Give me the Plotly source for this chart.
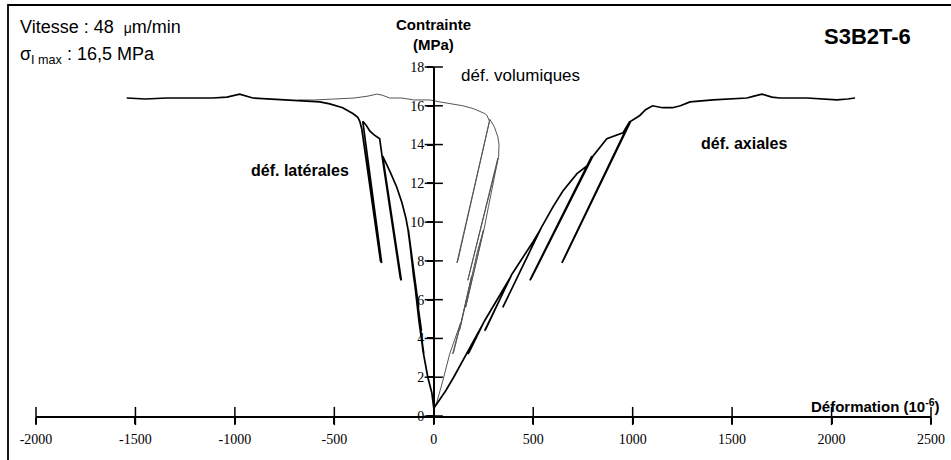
import plotly.graph_objects as go

# ---- data ----
x_ticks = [-2000, -1500, -1000, -500, 0, 500, 1000, 1500, 2000, 2500]
x_tick_text = ["-2000", "-1500", "-1000", "-500", "0", "500", "1000", "1500", "2000", "2500"]
y_ticks = [0, 2, 4, 6, 8, 10, 12, 14, 16, 18]
y_tick_text = ["0", "2", "4", "6", "8", "10", "12", "14", "16", "18"]

# axial strain (10^-6) vs stress (MPa), with unload/reload cycles
axial_x = [0, 20, 60, 100, 166, 231, 250, 171, 178, 255,
           300, 340, 388, 256, 262, 392,
           450, 500, 535, 347, 352, 540,
           600, 649, 720, 770, 795, 483, 490, 800,
           870, 951, 986, 644, 650, 990,
           1036, 1065, 1100, 1150, 1200, 1240, 1288, 1404, 1500, 1574, 1610, 1650,
           1700, 1740, 1876, 1950, 2027, 2080, 2118]
axial_y = [0.4, 0.7, 1.3, 2.0, 3.2, 4.4, 4.8, 3.2, 3.3, 4.9,
           5.7, 6.4, 7.2, 4.4, 4.5, 7.3,
           8.2, 9.0, 9.6, 5.6, 5.7, 9.7,
           10.8, 11.6, 12.5, 12.9, 13.4, 7.0, 7.1, 13.4,
           14.3, 14.6, 15.2, 7.9, 8.0, 15.2,
           15.5, 15.8, 16.0, 15.9, 15.9, 16.0, 16.2, 16.3, 16.35, 16.4, 16.5, 16.6,
           16.45, 16.4, 16.4, 16.35, 16.3, 16.35, 16.4]

# lateral strain
lateral_x = [0, -5, -10, -30, -45, -55, -65, -72, -50, -53, -74,
             -85, -100, -62, -65, -102,
             -112, -128, -76, -80, -130,
             -140, -160, -186, -220, -257, -163, -168, -260,
             -268, -272, -300, -322, -340, -357, -262, -268, -362, -372, -382, -407,
             -458, -523, -573, -660, -760, -910, -976, -1040, -1112, -1343, -1450, -1544]
lateral_y = [0.4, 0.7, 1.2, 2.0, 2.8, 3.4, 4.4, 4.8, 3.2, 3.3, 4.85,
             6.0, 7.2, 4.4, 4.5, 7.25,
             8.2, 9.6, 5.6, 5.7, 9.65,
             10.2, 11.0, 11.8, 12.6, 13.4, 7.0, 7.1, 13.4,
             14.0, 14.3, 14.5, 14.7, 15.0, 15.2, 7.9, 8.0, 14.8, 15.2, 15.4, 15.6,
             15.9, 16.1, 16.2, 16.25, 16.3, 16.4, 16.6, 16.45, 16.4, 16.4, 16.35, 16.4]

# volumetric strain
vol_x = [0, 15, 45, 80, 121, 135, 95, 100, 138,
         165, 190, 128, 132, 193,
         220, 250, 160, 165, 253,
         275, 300, 318, 322, 171, 176, 326,
         328, 322, 305, 282, 116, 121, 280, 268, 256, 230, 200, 146, 80, 30,
         -20, -100, -160, -221, -260, -287, -330, -400, -500, -600, -680]
vol_y = [0.4, 0.7, 1.8, 3.2, 4.4, 4.8, 3.2, 3.3, 4.85,
         6.0, 7.2, 4.4, 4.5, 7.25,
         8.5, 9.6, 5.6, 5.7, 9.65,
         10.8, 12.0, 13.0, 13.3, 7.0, 7.1, 13.35,
         14.0, 14.4, 14.9, 15.3, 7.9, 8.0, 15.2, 15.5, 15.6, 15.7, 15.85, 16.0, 16.1, 16.2,
         16.3, 16.3, 16.4, 16.4, 16.55, 16.6, 16.5, 16.4, 16.35, 16.3, 16.3]

# ---- layout helpers (plot area in pixels) ----
W, H = 951, 460
L, R, T, B = 36, 20, 67, 44
PW, PH = W - L - R, H - T - B


def px(p):
    return (p - L) / PW


def py(p):
    return (H - B - p) / PH


SERIF = "Liberation Serif, Times New Roman, serif"
SANS = "Liberation Sans, Arial, sans-serif"

fig = go.Figure()
fig.add_trace(go.Scatter(x=vol_x, y=vol_y, mode="lines",
                         line=dict(color="#555555", width=1), hoverinfo="skip"))
fig.add_trace(go.Scatter(x=lateral_x, y=lateral_y, mode="lines",
                         line=dict(color="black", width=1.7), hoverinfo="skip"))
fig.add_trace(go.Scatter(x=axial_x, y=axial_y, mode="lines",
                         line=dict(color="black", width=1.7), hoverinfo="skip"))
# crossing tick marks on both axes
fig.add_trace(go.Scatter(x=x_ticks, y=[0] * len(x_ticks), mode="markers", cliponaxis=False,
                         marker=dict(symbol="line-ns", size=13, color="black",
                                     line=dict(width=1.5, color="black")), hoverinfo="skip"))
fig.add_trace(go.Scatter(x=[0] * len(y_ticks), y=y_ticks, mode="markers", cliponaxis=False,
                         marker=dict(symbol="line-ew", size=13, color="black",
                                     line=dict(width=1.5, color="black")), hoverinfo="skip"))

fig.update_layout(
    width=W, height=H,
    margin=dict(l=L, r=R, t=T, b=B, autoexpand=False),
    paper_bgcolor="white", plot_bgcolor="white",
    showlegend=False,
    xaxis=dict(range=[-2000, 2500], showgrid=False, zeroline=False,
               showline=True, linecolor="black", linewidth=1.5,
               tickvals=x_ticks, ticktext=x_tick_text,
               ticks="outside", ticklen=6, tickwidth=1.5, tickcolor="black",
               ticklabelstandoff=3,
               tickfont=dict(family=SERIF, size=14, color="black")),
    yaxis=dict(range=[0, 18], anchor="free", position=2000 / 4500,
               showgrid=False, zeroline=False,
               showline=True, linecolor="black", linewidth=1.5,
               tickvals=y_ticks, ticktext=y_tick_text,
               ticks="outside", ticklen=6, tickwidth=1.5, tickcolor="black",
               ticklabelstandoff=0,
               tickfont=dict(family=SERIF, size=14, color="black")),
)

# frame around the whole figure (extends past right/bottom edges)
fig.add_shape(type="rect", xref="paper", yref="paper",
              x0=px(8), x1=px(990), y0=py(500), y1=py(5),
              line=dict(color="black", width=1.8), fillcolor="rgba(0,0,0,0)", layer="above")

annots = [
    dict(text="Vitesse : 48  <span style='font-size:14px'>μ</span>m/min", x=px(18), y=py(27),
         xanchor="left", font=dict(family=SANS, size=18)),
    dict(text="σ<sub>I max</sub> : 16,5 MPa", x=px(18), y=py(55),
         xanchor="left", font=dict(family=SANS, size=18)),
    dict(text="<b>Contrainte</b>", x=px(433), y=py(24), xanchor="center",
         font=dict(family=SANS, size=15)),
    dict(text="<b>(MPa)</b>", x=px(433), y=py(45), xanchor="center",
         font=dict(family=SANS, size=15)),
    dict(text="déf. volumiques", x=px(459), y=py(76), xanchor="left",
         font=dict(family=SANS, size=17)),
    dict(text="<b>S3B2T-6</b>", x=px(822), y=py(37), xanchor="left",
         font=dict(family=SANS, size=22)),
    dict(text="<b>déf. axiales</b>", x=px(699), y=py(143), xanchor="left",
         font=dict(family=SANS, size=16)),
    dict(text="<b>déf. latérales</b>", x=px(249), y=py(170), xanchor="left",
         font=dict(family=SANS, size=16)),
    dict(text="<b>Déformation (10<sup>-6</sup>)</b>", x=px(809), y=py(405), xanchor="left",
         font=dict(family=SANS, size=15)),
]
for a in annots:
    fig.add_annotation(xref="paper", yref="paper", showarrow=False, yanchor="middle",
                       **{k: v for k, v in a.items() if k != "font"},
                       font=dict(color="black", **a["font"]))

fig.write_html("out.html", config={"displayModeBar": False},
               post_script="document.body.style.margin='0';document.body.style.overflow='hidden';")
